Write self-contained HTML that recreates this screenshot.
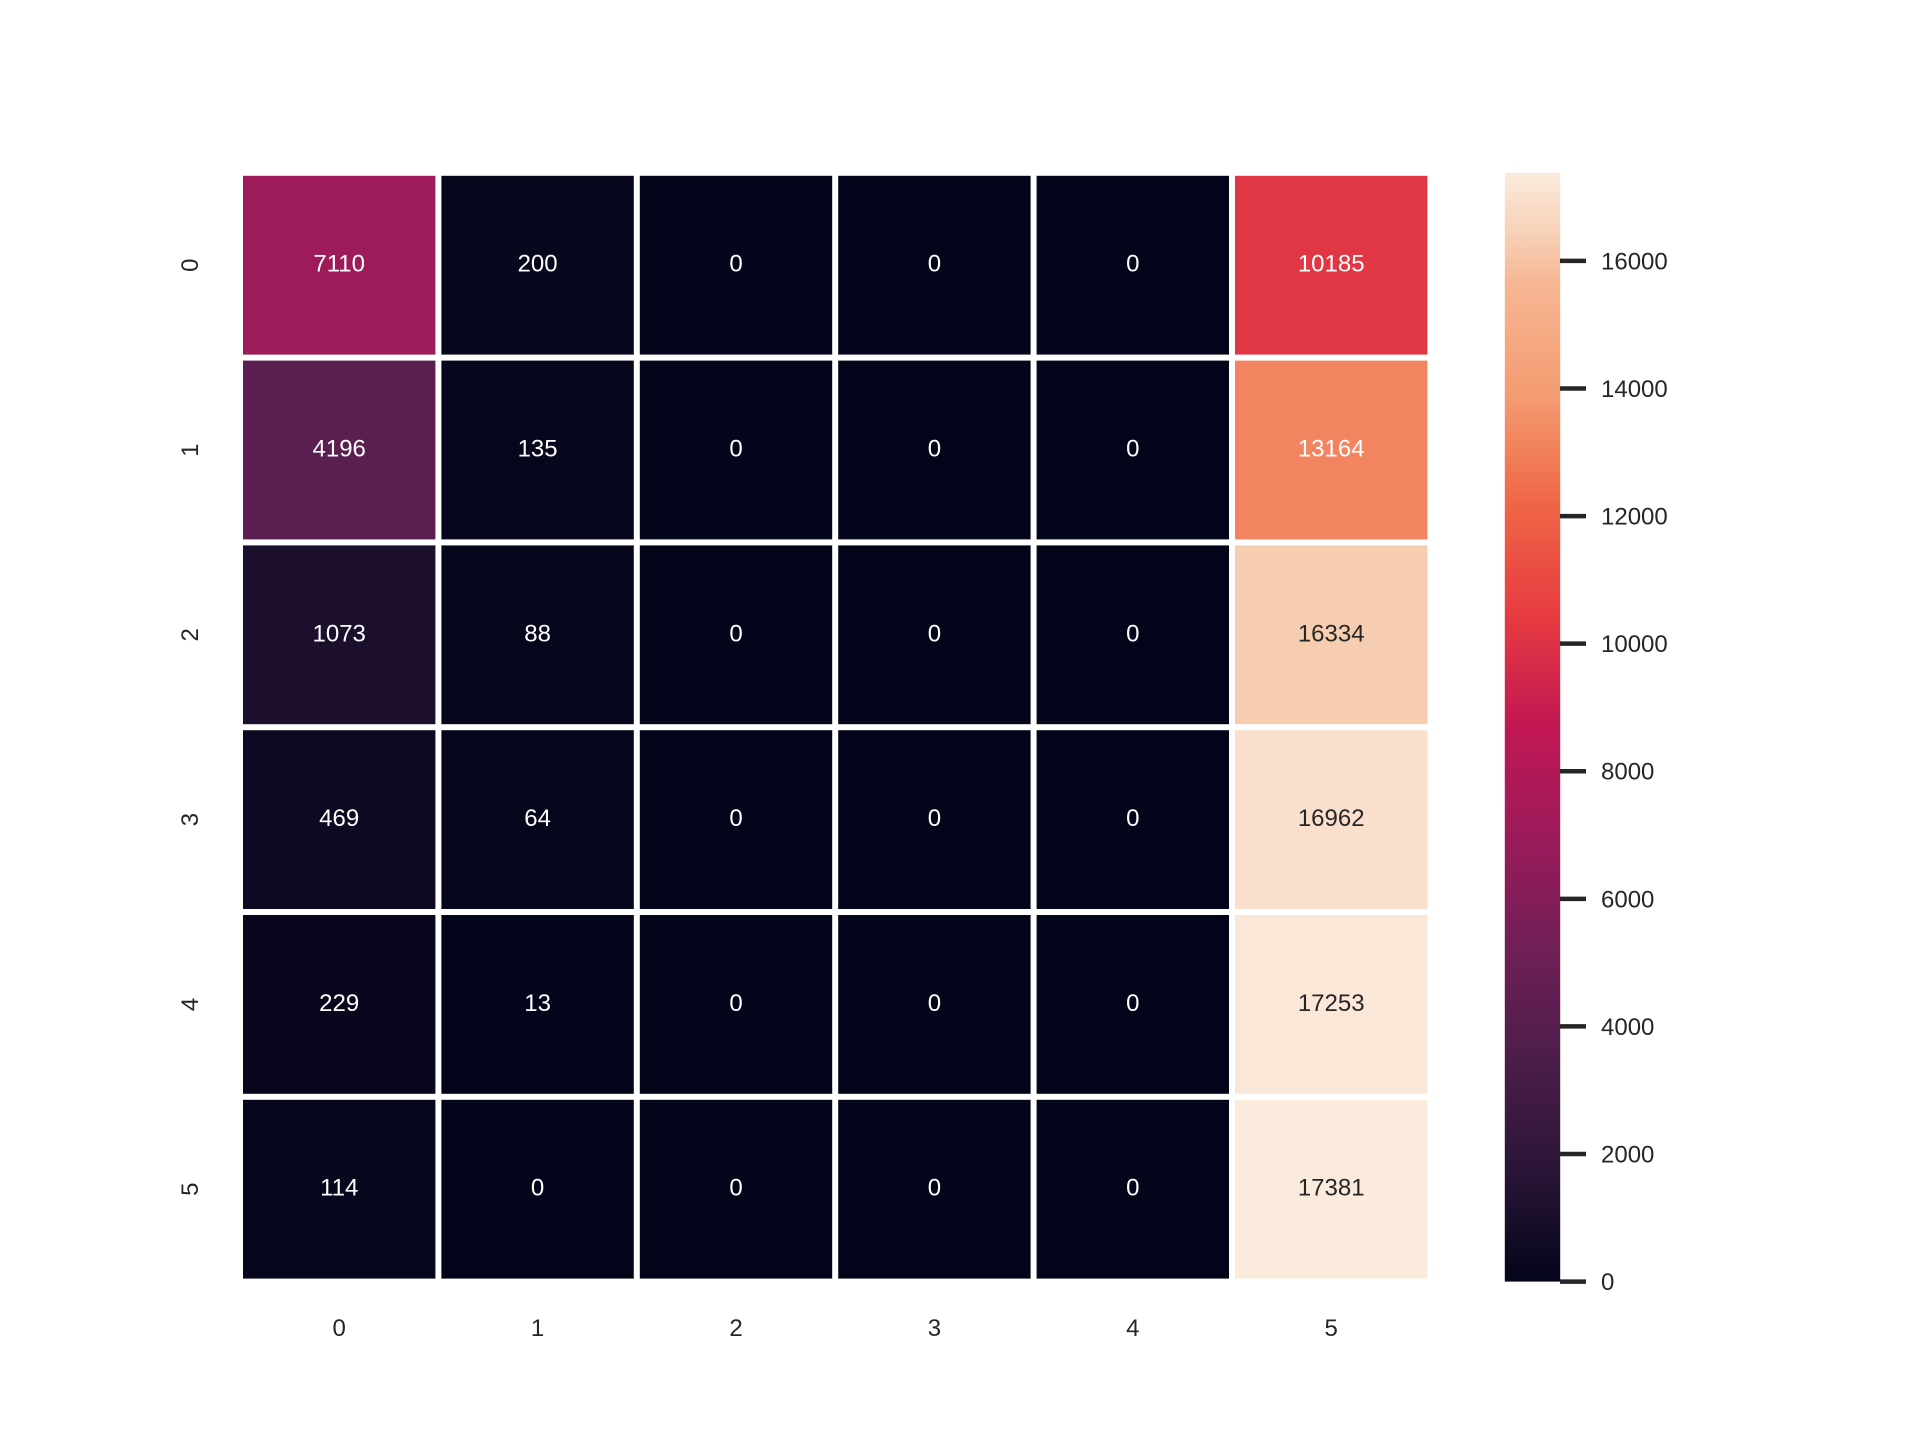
<!DOCTYPE html>
<html><head><meta charset="utf-8"><style>
html,body{margin:0;padding:0;background:#fff}
svg{display:block}
text{font-family:"Liberation Sans","DejaVu Sans",sans-serif}
</style></head><body>
<svg id="chart" width="1920" height="1440" viewBox="0 0 1920 1440" xmlns="http://www.w3.org/2000/svg">
<defs>
<linearGradient id="cbgrad" x1="0" y1="1" x2="0" y2="0"></linearGradient>
</defs>
<g id="cells"></g>
<g id="xticks"></g>
<g id="yticks"></g>
<rect id="cbar" x="1504.8" y="172.8" width="55.4" height="1108.8" fill="url(#cbgrad)"/>
<g id="cbticks"></g>
</svg>
<script>
const rowLabels = ["0","1","2","3","4","5"];
const colLabels = ["0","1","2","3","4","5"];
const matrix = [
 [7110,200,0,0,0,10185],
 [4196,135,0,0,0,13164],
 [1073,88,0,0,0,16334],
 [469,64,0,0,0,16962],
 [229,13,0,0,0,17253],
 [114,0,0,0,0,17381]
];
const cbTicks = [0,2000,4000,6000,8000,10000,12000,14000,16000];
const vmin = 0, vmax = 17381;

const L=240, T=172.8, W=1190.4, H=1108.8;
const NS="http://www.w3.org/2000/svg";
const stops=[[0,"#03051a"],[0.1,"#2a1537"],[0.2,"#4c1d4b"],[0.3,"#701f57"],[0.4,"#9b1b5a"],[0.5,"#c11754"],[0.6,"#e63b40"],[0.7,"#ef6546"],[0.8,"#f49c72"],[0.9,"#f6b693"],[0.95,"#f7d3ba"],[1,"#faebdd"]];
function hex(h){return [1,3,5].map(i=>parseInt(h.substr(i,2),16));}
function cmap(t){t=Math.max(0,Math.min(1,t));for(let i=1;i<stops.length;i++){if(t<=stops[i][0]){const a=stops[i-1],b=stops[i];const f=(t-a[0])/(b[0]-a[0]);const ca=hex(a[1]),cb=hex(b[1]);return ca.map((v,k)=>Math.round(v+(cb[k]-v)*f));}}return hex(stops[stops.length-1][1]);}
function lum(c){const r=c.map(v=>{v/=255;return v<=0.03928?v/12.92:Math.pow((v+0.055)/1.055,2.4)});return 0.2126*r[0]+0.7152*r[1]+0.0722*r[2];}
const xs=i=>L+i*W/colLabels.length;
const ys=j=>T+j*H/rowLabels.length;
const cs=v=>(v-vmin)/(vmax-vmin);
const yc=v=>T+H-(v-vmin)/(vmax-vmin)*H;
const cw=W/colLabels.length, ch=H/rowLabels.length;
const g=document.getElementById('cells');
matrix.forEach((row,j)=>row.forEach((v,i)=>{
 const c=cmap(cs(v));
 const r=document.createElementNS(NS,'rect');
 
 
 r.setAttribute('x',xs(i)+3);r.setAttribute('y',ys(j)+3);
 r.setAttribute('width',cw-6);r.setAttribute('height',ch-6);
 r.setAttribute('fill',`rgb(${c})`);g.appendChild(r);
 const t=document.createElementNS(NS,'text');
 
 
 t.setAttribute('x',xs(i)+cw/2);t.setAttribute('y',ys(j)+ch/2+6.5);
 t.setAttribute('text-anchor','middle');t.setAttribute('font-size','24');
 t.setAttribute('fill',lum(c)>0.408?'#262626':'#ffffff');
 t.textContent=v;g.appendChild(t);
}));
const xt=document.getElementById('xticks');
colLabels.forEach((l,i)=>{const t=document.createElementNS(NS,'text');
 
 
 t.setAttribute('x',xs(i)+cw/2);t.setAttribute('y',1336);t.setAttribute('text-anchor','middle');
 t.setAttribute('font-size','24');t.setAttribute('fill','#262626');t.textContent=l;xt.appendChild(t);});
const yt=document.getElementById('yticks');
rowLabels.forEach((l,j)=>{const t=document.createElementNS(NS,'text');
 
 
 const x=198,y=ys(j)+ch/2;
 t.setAttribute('x',x);t.setAttribute('y',y);t.setAttribute('text-anchor','middle');
 t.setAttribute('transform',`rotate(-90 ${x} ${y})`);
 t.setAttribute('font-size','24');t.setAttribute('fill','#262626');t.textContent=l;yt.appendChild(t);});
const gr=document.getElementById('cbgrad');
for(let k=0;k<=40;k++){const s=document.createElementNS(NS,'stop');s.setAttribute('offset',k/40);s.setAttribute('stop-color',`rgb(${cmap(k/40)})`);gr.appendChild(s);}
const cbt=document.getElementById('cbticks');
cbTicks.forEach(v=>{const y=yc(v);
 const ln=document.createElementNS(NS,'line');
 
 
 ln.setAttribute('x1',1560);ln.setAttribute('x2',1586);ln.setAttribute('y1',y);ln.setAttribute('y2',y);
 ln.setAttribute('stroke','#262626');ln.setAttribute('stroke-width','4.5');cbt.appendChild(ln);
 const t=document.createElementNS(NS,'text');
 
 
 t.setAttribute('x',1601);t.setAttribute('y',y+8.5);t.setAttribute('font-size','24');t.setAttribute('fill','#262626');
 t.textContent=v;cbt.appendChild(t);});
</script>
</body></html>
